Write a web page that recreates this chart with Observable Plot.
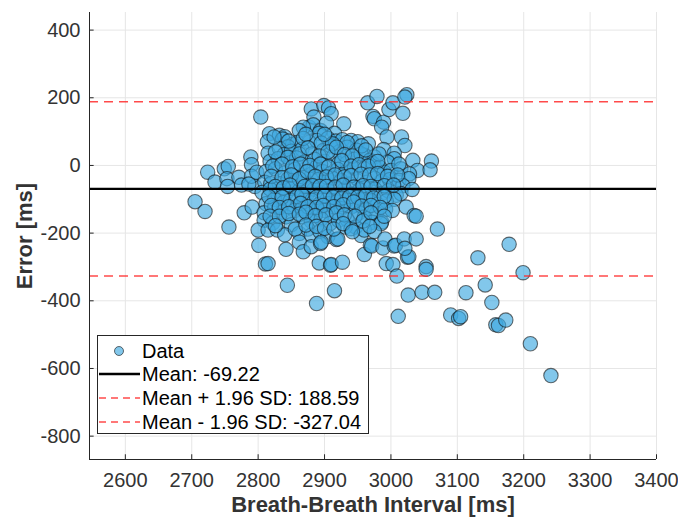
<!DOCTYPE html>
<html>
<head>
<meta charset="utf-8">
<script src="https://cdn.jsdelivr.net/npm/d3@7"></script>
<script src="https://cdn.jsdelivr.net/npm/@observablehq/plot@0.6"></script>
<style>
  html, body { margin: 0; padding: 0; background: #fff; }
  #wrap { position: relative; width: 678px; height: 518px; font-family: "Liberation Sans", Arial, sans-serif; }
  #wrap svg text { font-family: "Liberation Sans", Arial, sans-serif; }
  g[aria-label="x-axis label"] text, g[aria-label="y-axis label"] text { font-weight: bold; font-size: 22px; }
  #legend { position: absolute; left: 97px; top: 335px; }
</style>
</head>
<body>
<div id="wrap"></div>
<script>
// ---- data (Breath-Breath Interval [ms], Error [ms]) ----
const leftTail = [[2705,-107],[2720,-136],[2724,-20],[2735,-49],[2749,-10],[2755,-3],[2753,-39],[2754,-62],
  [2756,-182],[2771,-35],[2775,-58],[2779,-140],[2789,25],[2790,2],[2791,-123],[2795,-62],[2790,-32],[2786,-55],[2798,-20]];
const upperSpikes = [[2804,143],[2817,94],[2832,89],[2840,85],[2877,113],[2880,167],[2884,143],[2883,120],[2868,113],
  [2862,103],[2894,103],[2899,177],[2906,170],[2910,153],[2903,125],[2929,123],[2965,185],[2979,204],[2973,145],
  [2975,138],[2989,128],[2986,113],[2997,165],[3003,185],[3018,154],[3024,209],[3021,202],[2994,84],[3016,84],
  [3021,59],[2892,95],[2915,95]];
const core = [
  [2814,70],[2837,78],[2852,62],[2859,68],[2877,69],[2888,74],[2905,80],[2917,72],[2927,76],[2940,74],[2950,70],[2966,64],[2845,55],
  [2815,36],[2832,50],[2839,32],[2850,42],[2866,48],[2881,34],[2898,44],[2909,58],[2922,40],[2934,54],[2948,45],[2960,30],[2989,47],[3005,36],[2975,25],
  [2818,12],[2830,20],[2849,8],[2858,22],[2870,10],[2885,18],[2900,12],[2914,28],[2921,5],[2934,8],[2945,18],[2955,34],[2968,15],[3005,20],[3033,15],[3061,13],[2995,10],
  [2812,-18],[2826,-10],[2840,-22],[2855,-12],[2868,-28],[2881,-25],[2888,-5],[2897,-18],[2908,-25],[2920,-12],[2932,-20],[2945,-8],[2960,-10],[2973,5],[2983,-5],[2990,-20],[3000,-15],[3040,-15],[3059,-13],[3015,-10],[3028,-25],
  [2810,-50],[2819,-54],[2832,-54],[2845,-40],[2857,-48],[2868,-34],[2878,-55],[2890,-42],[2900,-50],[2912,-38],[2925,-45],[2938,-55],[2950,-40],[2963,-50],[2975,-38],[2985,-48],[2998,-42],[3012,-44],[3027,-39],[3018,-60],
  [2806,-80],[2818,-70],[2830,-85],[2842,-83],[2851,-68],[2862,-74],[2873,-88],[2884,-70],[2895,-82],[2906,-75],[2918,-90],[2930,-70],[2942,-85],[2953,-72],[2965,-88],[2976,-70],[2986,-83],[2996,-75],[3008,-88],[3015,-83],[3032,-71],
  [2812,-113],[2825,-100],[2838,-110],[2849,-103],[2860,-118],[2869,-100],[2881,-103],[2892,-115],[2904,-100],[2906,-113],[2918,-108],[2934,-103],[2946,-118],[2957,-100],[2969,-103],[2980,-115],[2993,-105],[3005,-100],
  [2809,-140],[2825,-123],[2836,-138],[2855,-133],[2866,-128],[2878,-145],[2890,-130],[2900,-133],[2912,-145],[2925,-128],[2940,-123],[2952,-140],[2963,-130],[2978,-142],[2992,-130],[3002,-133],[3023,-123],[3035,-148],[3038,-150],
  [2809,-162],[2822,-170],[2842,-152],[2850,-175],[2868,-152],[2880,-165],[2895,-158],[2908,-172],[2921,-162],[2934,-160],[2947,-182],[2960,-152],[2972,-168],[2986,-167],[2985,-172],
  [2800,-191],[2815,-191],[2829,-191],[2840,-205],[2862,-201],[2875,-188],[2880,-206],[2893,-195],[2905,-210],[2918,-219],[2931,-182],[2940,-187],[2955,-207],[2960,-191],[2975,-195],[3070,-188],[2920,-217]
];
const coreDense = [
  [2824,84],[2846,72],[2868,80],[2895,66],[2912,64],[2934,68],[2956,58],[2872,92],[2900,92],
  [2826,40],[2845,24],[2862,34],[2875,52],[2892,28],[2905,40],[2918,54],[2930,32],[2942,28],[2962,46],[2982,34],
  [2822,-2],[2836,4],[2852,-4],[2864,4],[2878,0],[2894,4],[2906,-4],[2926,14],[2940,-2],[2952,2],[2966,-2],[2980,12],[3012,4],
  [2820,-32],[2836,-36],[2850,-28],[2862,-40],[2874,-18],[2886,-32],[2903,-34],[2916,-28],[2930,-34],[2940,-30],[2955,-26],[2968,-28],[2980,-24],[2995,-32],[3010,-28],
  [2826,-62],[2838,-66],[2848,-58],[2870,-62],[2882,-60],[2893,-62],[2903,-62],[2916,-64],[2928,-58],[2944,-64],[2958,-60],[2970,-62],[2990,-60],[3004,-58],
  [2816,-92],[2836,-94],[2858,-92],[2866,-86],[2888,-94],[2900,-90],[2913,-94],[2926,-96],[2938,-92],[2950,-94],[2962,-90],[2974,-96],[2990,-92],
  [2820,-118],[2832,-124],[2846,-122],[2864,-112],[2875,-122],[2888,-124],[2898,-118],[2914,-122],[2928,-116],[2944,-108],[2956,-120],[2970,-118],[2984,-124],
  [2818,-150],[2832,-150],[2846,-142],[2862,-144],[2872,-138],[2886,-148],[2902,-146],[2918,-140],[2930,-146],[2946,-150],[2958,-164],[2970,-140],[2990,-150],
  [2826,-178],[2856,-188],[2872,-176],[2888,-180],[2900,-186],[2914,-188],[2928,-172],[2942,-196],[2968,-180]
];
const lowerTail = [[2801,-236],[2811,-291],[2815,-290],[2842,-248],[2844,-354],[2862,-227],[2868,-255],[2880,-240],
  [2888,-408],[2892,-288],[2894,-231],[2895,-227],[2909,-295],[2910,-293],[2915,-370],[2927,-286],[2960,-263],[2969,-236],
  [2971,-238],[2988,-244],[2991,-217],[3005,-238],[3007,-236],[3020,-217],[3025,-271],[3027,-270],[3021,-245],[3038,-217],
  [2993,-290],[3003,-293],[3009,-327],[3053,-299],[3053,-307],[3026,-383],[3047,-375],[3066,-375],[3011,-446]];
const rightTail = [[3090,-442],[3102,-452],[3105,-447],[3113,-376],[3131,-273],[3142,-353],[3152,-405],[3158,-471],
  [3162,-473],[3173,-457],[3178,-233],[3199,-317],[3210,-527],[3241,-621]];

const meanError = -69.22;
const upperLimit = 188.59;
const lowerLimit = -327.04;
const xTicks = [2600, 2700, 2800, 2900, 3000, 3100, 3200, 3300, 3400];
const yTicks = [400, 200, 0, -200, -400, -600, -800];
const xDomain = [2546, 3400];
const yDomain = [-869, 452];
const legendLabels = ["Data", "Mean: -69.22", "Mean + 1.96 SD: 188.59", "Mean - 1.96 SD: -327.04"];

const points = [...leftTail, ...upperSpikes, ...core, ...coreDense, ...lowerTail, ...rightTail];

const axisColor = "#262626";
const chart = Plot.plot({
  width: 678,
  height: 518,
  marginLeft: 89,
  marginRight: 22,
  marginTop: 12,
  marginBottom: 59,
  style: { fontFamily: "Liberation Sans, Arial, sans-serif", fontSize: "20px", color: "#333", background: "#fff" },
  x: { domain: xDomain },
  y: { domain: yDomain },
  marks: [
    Plot.gridX(xTicks, { stroke: "#e6e6e6", strokeOpacity: 1 }),
    Plot.gridY(yTicks, { stroke: "#e6e6e6", strokeOpacity: 1 }),
    Plot.ruleY(yTicks, { x1: xDomain[0], x2: xDomain[0] + 7, stroke: axisColor }),
    Plot.ruleX(xTicks, { y1: yDomain[0], y2: yDomain[0] + 14, stroke: axisColor }),
    Plot.dot(points, { x: d => d[0], y: d => d[1], r: 7.2, fill: "#3fa9e0", fillOpacity: 0.65, stroke: "#111", strokeOpacity: 0.6, strokeWidth: 1.1 }),
    Plot.ruleY([meanError], { stroke: "#000", strokeWidth: 2.4 }),
    Plot.ruleY([upperLimit, lowerLimit], { stroke: "#ff2a2a", strokeOpacity: 0.85, strokeWidth: 1.5, strokeDasharray: "9,6" }),
    Plot.axisX(xTicks, { tickSize: 0, tickPadding: 13, label: "Breath-Breath Interval [ms]", labelAnchor: "center", labelArrow: "none", labelOffset: 52, tickFormat: d => String(d) }),
    Plot.axisY(yTicks, { tickSize: 0, tickPadding: 9, label: "Error [ms]", labelAnchor: "center", labelOffset: 73, labelArrow: "none", tickFormat: d => String(d) }),
    Plot.ruleX([xDomain[0]], { stroke: axisColor, strokeWidth: 1 }),
    Plot.ruleY([yDomain[0]], { stroke: axisColor, strokeWidth: 1 })
  ]
});
const wrap = document.getElementById("wrap");
wrap.appendChild(chart);

// legend overlay
const lg = d3.select(wrap).append("svg").attr("id", "legend").attr("width", 272).attr("height", 99);
lg.append("rect").attr("x", 0.5).attr("y", 0.5).attr("width", 271).attr("height", 98).attr("fill", "#fff").attr("stroke", axisColor);
const rows = [16, 39, 63, 87];
lg.append("circle").attr("cx", 22).attr("cy", rows[0]).attr("r", 4.5).attr("fill", "#3fa9e0").attr("fill-opacity", 0.65).attr("stroke", "#111").attr("stroke-opacity", 0.6);
lg.append("line").attr("x1", 2).attr("x2", 43).attr("y1", rows[1]).attr("y2", rows[1]).attr("stroke", "#000").attr("stroke-width", 2.4);
lg.append("line").attr("x1", 2).attr("x2", 43).attr("y1", rows[2]).attr("y2", rows[2]).attr("stroke", "#ff2a2a").attr("stroke-opacity", 0.85).attr("stroke-width", 1.5).attr("stroke-dasharray", "7,5");
lg.append("line").attr("x1", 2).attr("x2", 43).attr("y1", rows[3]).attr("y2", rows[3]).attr("stroke", "#ff2a2a").attr("stroke-opacity", 0.85).attr("stroke-width", 1.5).attr("stroke-dasharray", "7,5");
legendLabels.forEach((t, i) => {
  lg.append("text").attr("x", 45).attr("y", rows[i]).attr("dy", "0.36em").attr("font-size", "20px")
    .attr("font-family", "Liberation Sans, Arial, sans-serif").attr("fill", "#000").text(t);
});
</script>
</body>
</html>
